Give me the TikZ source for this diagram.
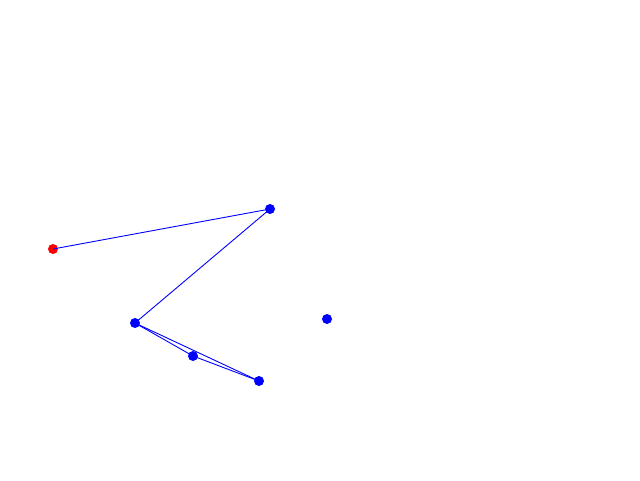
\documentclass[tikz,border=0pt]{standalone}
\begin{document}
\begin{tikzpicture}[x=1pt,y=-1pt,
  dotb/.style={circle,fill=blue,inner sep=0pt,minimum size=10pt},
  dotr/.style={circle,fill=red,inner sep=0pt,minimum size=10pt},
  edge/.style={blue,line width=0.9pt}]
\useasboundingbox (0,0) rectangle (640,480);
\node[dotr] (r) at (53,249) {};
\node[dotb] (a) at (270,209) {};
\node[dotb] (b) at (135,323) {};
\node[dotb] (c) at (193,356) {};
\node[dotb] (d) at (259,381) {};
\node[dotb] (e) at (327,319) {};
\draw[edge] (r.center) -- (a.center);
\draw[edge] (a.center) -- (b.center);
\draw[edge] (b.center) -- (c.center);
\draw[edge] (c.center) -- (d.center);
\draw[edge] (b.center) -- (d.center);
\end{tikzpicture}
\end{document}
